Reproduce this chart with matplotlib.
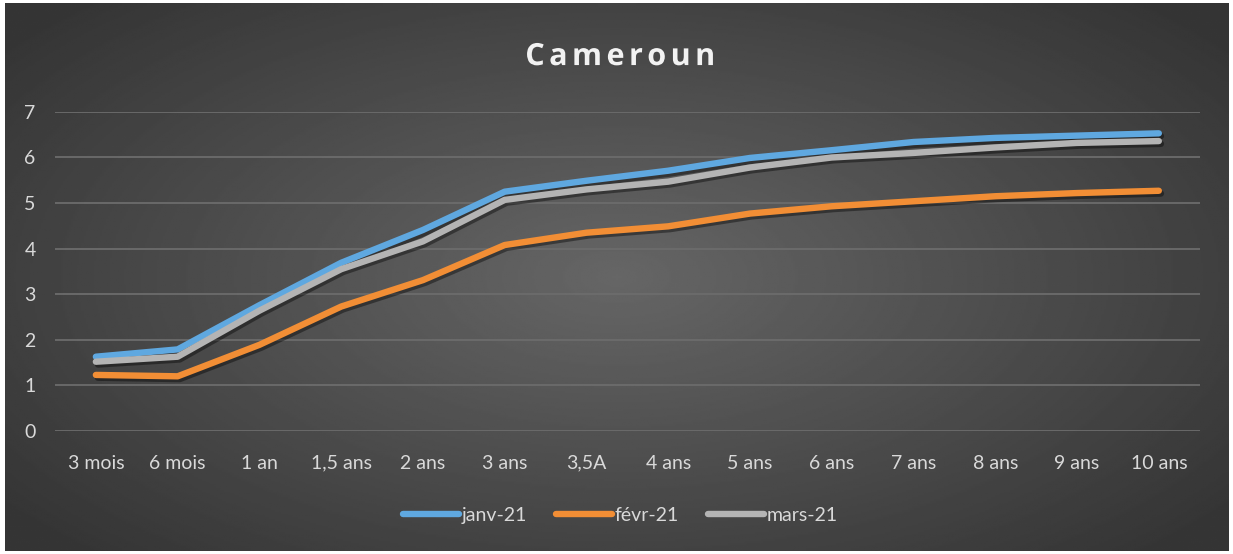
import numpy as np
import matplotlib
matplotlib.use('Agg')
import matplotlib.pyplot as plt
import matplotlib.patheffects as pe

categories = ['3 mois', '6 mois', '1 an', '1,5 ans', '2 ans', '3 ans', '3,5A',
              '4 ans', '5 ans', '6 ans', '7 ans', '8 ans', '9 ans', '10 ans']
janv_21 = [1.63, 1.79, 2.76, 3.69, 4.41, 5.25, 5.49, 5.71, 5.99, 6.16, 6.34, 6.43, 6.48, 6.53]
fevr_21 = [1.23, 1.20, 1.89, 2.73, 3.31, 4.08, 4.35, 4.49, 4.77, 4.93, 5.04, 5.15, 5.22, 5.27]
mars_21 = [1.52, 1.63, 2.64, 3.55, 4.16, 5.07, 5.30, 5.47, 5.78, 6.00, 6.10, 6.22, 6.32, 6.36]

series = [('janv-21', janv_21, '#5fa8e0'),
          ('févr-21', fevr_21, '#f28e35'),
          ('mars-21', mars_21, '#b4b4b4')]

plt.rcParams['font.family'] = ['Lato', 'DejaVu Sans']

fig = plt.figure(figsize=(12.33, 5.54), dpi=100)
fig.patch.set_facecolor('white')

# radial gradient background
bg = fig.add_axes([0.004, 0.006, 0.992, 0.988])
yy, xx = np.mgrid[-1:1:300j, -1:1:600j]
r = np.sqrt((xx / 1.0) ** 2 + (yy / 1.1) ** 2)
shade = 0.40 - 0.19 * np.clip(r / 1.25, 0, 1)
bg.imshow(shade, cmap='gray', vmin=0, vmax=1, aspect='auto', extent=[0, 1, 0, 1])
bg.set_axis_off()

ax = fig.add_axes([0.0446, 0.222, 0.9284, 0.576])
ax.patch.set_alpha(0)
x = np.arange(len(categories))
for name, vals, col in series:
    ax.plot(x, vals, color=col, lw=4.6, label=name, solid_capstyle='round',
            solid_joinstyle='round',
            path_effects=[pe.SimpleLineShadow(offset=(1.5, -2), shadow_color='black', alpha=0.4),
                          pe.Normal()])

ax.set_xlim(-0.5, len(categories) - 0.5)
ax.set_ylim(0, 7)
ax.set_yticks(range(8))
ax.set_xticks(x)
ax.set_xticklabels(categories)
ax.yaxis.grid(True, color='#6c6c6c', lw=1.3)
ax.set_axisbelow(True)
for s in ax.spines.values():
    s.set_visible(False)
ax.tick_params(length=0, colors='#d9d9d9', labelsize=14)
ax.tick_params(axis='x', pad=17)
ax.tick_params(axis='y', pad=14)

# title with letter spacing: place each glyph
title = 'Cameroun'
tkw = dict(fontsize=22, fontweight='bold', color='#f2f2f2',
           fontfamily=['Open Sans', 'DejaVu Sans'], va='center', ha='left')
renderer = fig.canvas.get_renderer()
widths = []
for ch in title:
    t = fig.text(0, 0, ch, **tkw)
    widths.append(t.get_window_extent(renderer).width)
    t.remove()
gap = 4.5
total = sum(widths) + gap * (len(title) - 1)
W = fig.bbox.width
xpos = 0.503 * W - total / 2
for ch, w in zip(title, widths):
    fig.text(xpos / W, 0.897, ch,
             path_effects=[pe.withSimplePatchShadow(offset=(1, -1.5), alpha=0.5)], **tkw)
    xpos += w + gap

leg = fig.legend(loc='center', bbox_to_anchor=(0.503, 0.07), ncol=3, frameon=False,
                 fontsize=14, handlelength=2.9, handletextpad=0.12, columnspacing=1.5)
for t in leg.get_texts():
    t.set_color('#d9d9d9')
for h in leg.get_lines():
    h.set_linewidth(4.6)
    h.set_path_effects([])

plt.savefig('out.png')
plt.close()
